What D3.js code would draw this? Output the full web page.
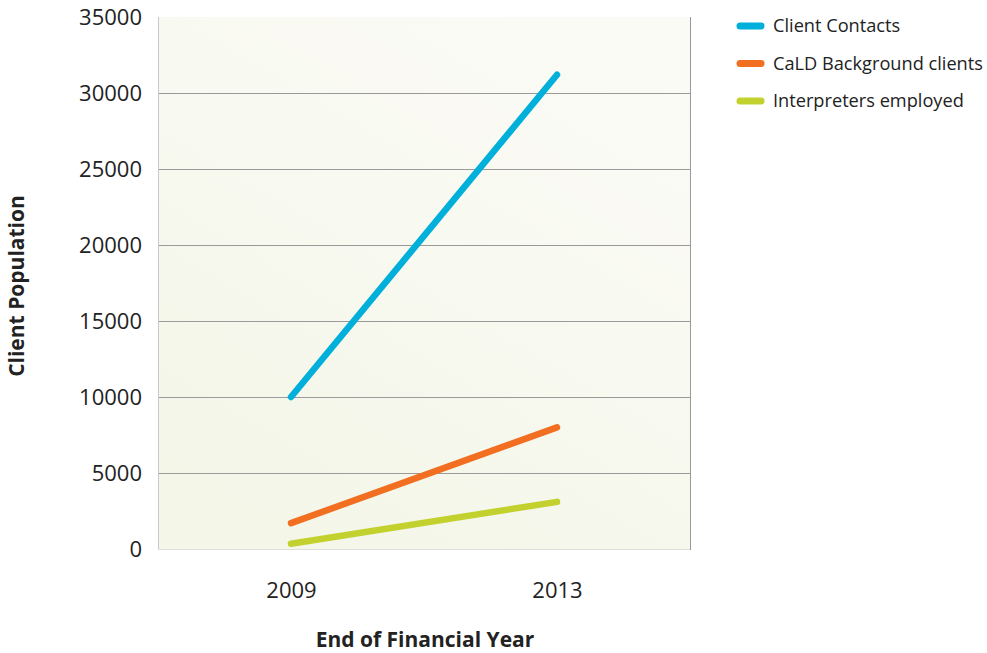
<!DOCTYPE html>
<html><head><meta charset="utf-8">
<script src="https://cdn.jsdelivr.net/npm/d3@7"></script>
<style>body{margin:0;background:#fff;}svg{display:block;font-family:"Open Sans",sans-serif;}</style>
</head><body><svg id="c" width="987" height="653"></svg>
<script>
const years = ["2009", "2013"];
const seriesNames = ["Client Contacts", "CaLD Background clients", "Interpreters employed"];
const clientContacts = [10000, 31200];
const caldClients = [1700, 8000];
const interpreters = [350, 3100];
const yTicks = [0, 5000, 10000, 15000, 20000, 25000, 30000, 35000];
const colors = ["#00b0da", "#f26f21", "#c3d12f"];

const series = [clientContacts, caldClients, interpreters];
const svg = d3.select("#c");
const L = 158, R = 690, T = 17, B = 549;

const defs = svg.append("defs");
const g = defs.append("linearGradient").attr("id","bg").attr("x1","0.8").attr("y1","0").attr("x2","0.2").attr("y2","1");
g.append("stop").attr("offset","0").attr("stop-color","#fbfbf6");
g.append("stop").attr("offset","1").attr("stop-color","#f4f6e8");

const x = d3.scalePoint().domain(years).range([L, R]).padding(0.5);
const y = d3.scaleLinear().domain([0, 35000]).range([B, T]);

svg.append("rect").attr("x", L).attr("y", T).attr("width", R-L).attr("height", B-T).attr("fill","url(#bg)");

// gridlines
svg.append("g").selectAll("line").data(yTicks.filter(d=>d>0 && d<35000)).join("line")
  .attr("x1", L).attr("x2", R).attr("y1", d=>y(d)+0.5).attr("y2", d=>y(d)+0.5)
  .attr("stroke","#9a9a9a").attr("stroke-width",1);

// borders
svg.append("line").attr("x1",L+0.5).attr("x2",L+0.5).attr("y1",T).attr("y2",B+1).attr("stroke","#c8c8c8");
svg.append("line").attr("x1",L).attr("x2",R).attr("y1",B+0.5).attr("y2",B+0.5).attr("stroke","#dedede");
svg.append("line").attr("x1",R+0.5).attr("x2",R+0.5).attr("y1",T).attr("y2",B+1).attr("stroke","#999");

// y axis
const ya = svg.append("g").attr("transform",`translate(${L},0)`)
  .call(d3.axisLeft(y).tickValues(yTicks).tickSize(0).tickPadding(16).tickFormat(d3.format("d")));
ya.select(".domain").remove();
ya.selectAll("text").attr("font-size",22).attr("fill","#222").attr("font-family","'Open Sans',sans-serif");

// x axis
const xa = svg.append("g").attr("transform",`translate(0,${B})`)
  .call(d3.axisBottom(x).tickSize(0).tickPadding(33));
xa.select(".domain").remove();
xa.selectAll("text").attr("font-size",22).attr("fill","#222").attr("font-family","'Open Sans',sans-serif");

// lines
const line = d3.line().x((d,i)=>x(years[i])).y(d=>y(d));
svg.append("g").selectAll("path").data(series).join("path")
  .attr("d", line).attr("fill","none").attr("stroke",(d,i)=>colors[i])
  .attr("stroke-width",6.5).attr("stroke-linecap","round");

// axis titles
svg.append("text").attr("x", 425).attr("y", 647).attr("text-anchor","middle")
  .attr("font-size",21).attr("font-weight","bold").attr("fill","#222").text("End of Financial Year");
svg.append("text").attr("transform","translate(24,286) rotate(-90)").attr("text-anchor","middle")
  .attr("font-size",21).attr("font-weight","bold").attr("fill","#222").text("Client Population");

// legend
const lg = svg.append("g").selectAll("g").data(seriesNames).join("g")
  .attr("transform",(d,i)=>`translate(737,${26 + i*37.5})`);
lg.append("line").attr("x1",3).attr("x2",24).attr("y1",0).attr("y2",0)
  .attr("stroke",(d,i)=>colors[i]).attr("stroke-width",7).attr("stroke-linecap","round");
lg.append("text").attr("x",36).attr("y",6).attr("font-size",18.2).attr("fill","#222").text(d=>d);
</script></body></html>
